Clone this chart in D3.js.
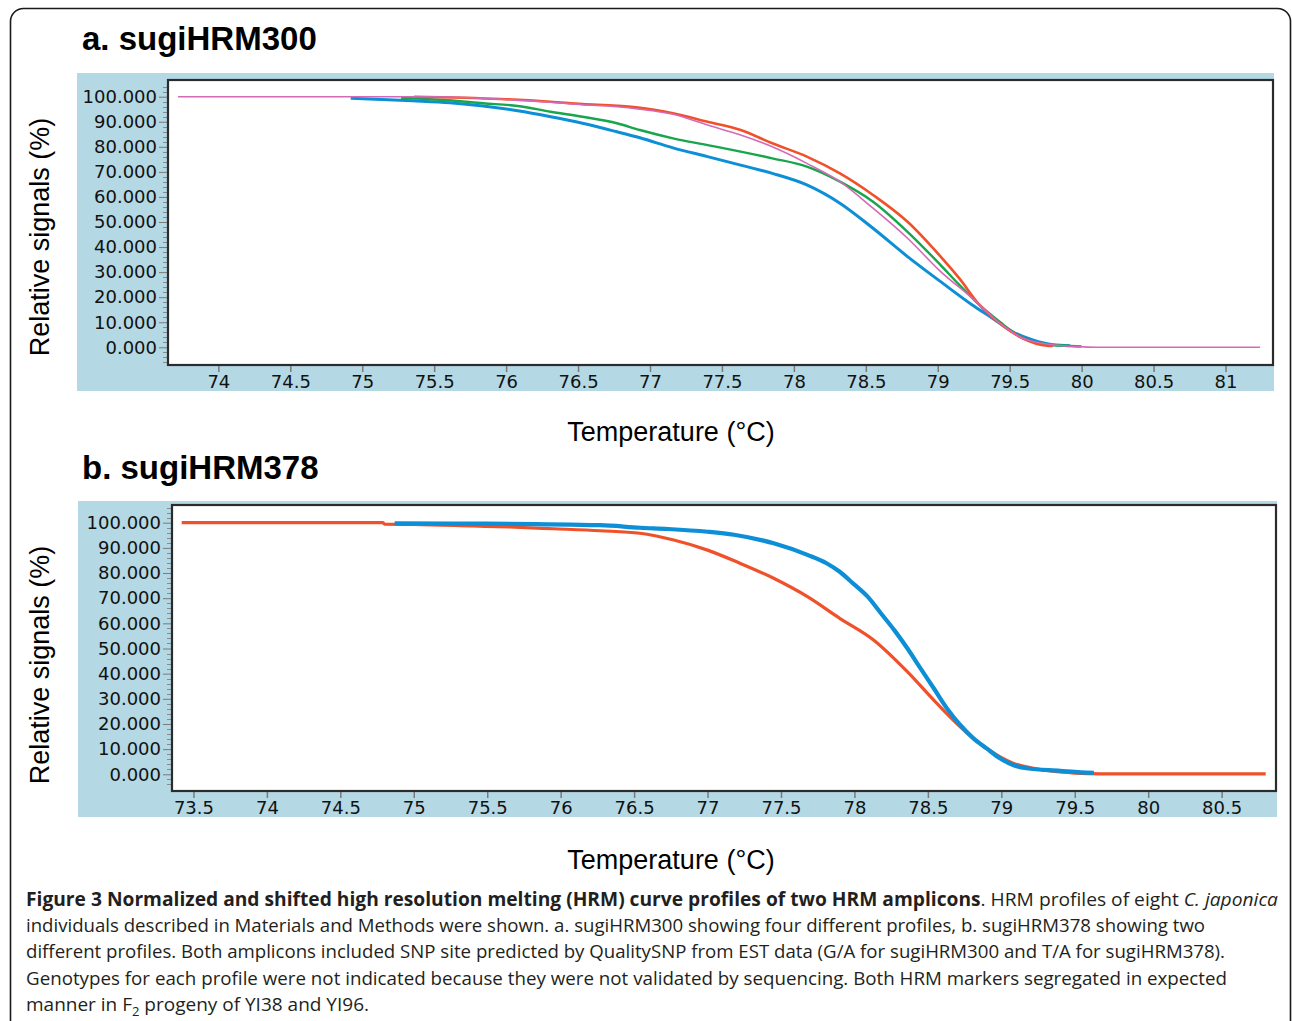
<!doctype html>
<html>
  <head>
    <meta charset="utf-8" />
    <title>HRM curve profiles</title>
    <script src="https://cdn.jsdelivr.net/npm/d3@7"></script>
    <style>
      html,
      body {
        margin: 0;
        padding: 0;
        background: #fff;
        overflow: hidden;
      }
    </style>
  </head>
  <body>
    <script>
      // Tick values for both panels
      const yTicks = [0, 10, 20, 30, 40, 50, 60, 70, 80, 90, 100];
      const xTicksA = [74, 74.5, 75, 75.5, 76, 76.5, 77, 77.5, 78, 78.5, 79, 79.5, 80, 80.5, 81];
      const xTicksB = [73.5, 74, 74.5, 75, 75.5, 76, 76.5, 77, 77.5, 78, 78.5, 79, 79.5, 80, 80.5];

      // a. sugiHRM300 — [temperature, relative signal]
      const aBlue = [
        [74.92, 99.4], [75.35, 98.4], [75.61, 97.6], [75.84, 96.3], [76.08, 94.4],
        [76.31, 92.0], [76.53, 89.4], [76.77, 86.0], [76.93, 83.6], [77.16, 79.6],
        [77.4, 76.1], [77.63, 72.7], [77.85, 69.4], [78.09, 64.8], [78.32, 57.5],
        [78.55, 47.5], [78.79, 36.2], [79.02, 26.2], [79.24, 16.9], [79.38, 11.6],
        [79.52, 6.2], [79.66, 2.9], [79.8, 1.0], [79.92, 0.6],
      ];
      const aGreen = [
        [75.27, 99.5], [75.6, 98.6], [75.84, 97.4], [76.08, 96.3], [76.31, 94.0],
        [76.53, 92.0], [76.77, 89.4], [76.93, 86.7], [77.16, 83.4], [77.4, 80.7],
        [77.63, 78.1], [77.85, 75.4], [78.09, 72.1], [78.32, 66.1], [78.55, 58.1],
        [78.79, 46.1], [79.02, 32.8], [79.15, 24.9], [79.29, 16.9], [79.43, 10.2],
        [79.59, 3.6], [79.75, 1.2], [80.0, 0.3],
      ];
      const aRed = [
        [75.36, 100], [75.96, 99.1], [76.31, 98.0], [76.53, 97.1], [76.77, 96.4],
        [76.93, 95.6], [77.16, 93.4], [77.4, 90.0], [77.63, 86.7], [77.85, 81.4],
        [78.09, 76.1], [78.32, 69.4], [78.55, 60.8], [78.79, 50.1], [79.02, 36.2],
        [79.15, 27.5], [79.29, 16.9], [79.43, 9.6], [79.59, 3.6], [79.76, 0.6],
        [79.8, 0.5],
      ];
      const aPink = [
        [73.72, 100], [75.5, 100], [75.96, 99.0], [76.31, 97.8], [76.53, 96.8],
        [76.77, 96.0], [76.93, 95.0], [77.16, 93.0], [77.4, 88.7], [77.63, 84.7],
        [77.85, 80.0], [78.09, 73.4], [78.32, 66.1], [78.55, 55.5], [78.79, 43.5],
        [79.02, 30.2], [79.24, 19.6], [79.43, 9.6], [79.59, 3.6], [79.8, 1.0],
        [80.0, 0.2], [80.1, 0], [81.24, 0],
      ];

      // b. sugiHRM378
      const bRed = [
        [73.42, 100], [74.79, 100], [74.8, 99.4], [75.0, 99.3], [75.4, 98.7],
        [75.65, 98.3], [75.95, 97.6], [76.27, 96.8], [76.54, 95.8], [76.77, 93.1],
        [77.0, 89.1], [77.22, 83.9], [77.45, 77.9], [77.68, 70.6], [77.9, 62.0],
        [78.13, 53.4], [78.36, 40.8], [78.54, 29.5], [78.72, 18.9], [78.9, 10.3],
        [79.08, 4.4], [79.22, 2.4], [79.35, 1.2], [79.5, 0.5], [79.68, 0.2],
        [80.8, 0.2],
      ];
      const bBlue = [
        [74.87, 99.7], [75.5, 99.6], [76.27, 99.0], [76.54, 98.0], [76.73, 97.5],
        [77.0, 96.4], [77.18, 95.2], [77.45, 91.8], [77.68, 87.2], [77.81, 83.9],
        [77.9, 80.5], [77.99, 75.9], [78.09, 70.6], [78.18, 64.0], [78.27, 57.4],
        [78.36, 50.1], [78.45, 42.1], [78.54, 34.2], [78.63, 26.2], [78.72, 19.6],
        [78.81, 14.3], [78.9, 10.3], [78.99, 6.4], [79.08, 3.7], [79.17, 2.4],
        [79.4, 1.4], [79.54, 0.8], [79.63, 0.6],
      ];

      const captionLines = [
        [
          { t: "Figure 3 Normalized and shifted high resolution melting (HRM) curve profiles of two HRM amplicons", w: "bold" },
          { t: ". HRM profiles of eight " },
          { t: "C. japonica", s: "italic" },
        ],
        [{ t: "individuals described in Materials and Methods were shown. a. sugiHRM300 showing four different profiles, b. sugiHRM378 showing two" }],
        [{ t: "different profiles. Both amplicons included SNP site predicted by QualitySNP from EST data (G/A for sugiHRM300 and T/A for sugiHRM378)." }],
        [{ t: "Genotypes for each profile were not indicated because they were not validated by sequencing. Both HRM markers segregated in expected" }],
        [{ t: "manner in F" }, { t: "2", sub: true }, { t: " progeny of YI38 and YI96." }],
      ];
      const captionWidths = [1252, 1179, 1199, 1201, 343];

      const width = 1292;
      const height = 1021;

      const svg = d3
        .select("body")
        .append("svg")
        .attr("width", width)
        .attr("height", height)
        .style("display", "block");

      // outer rounded frame (runs off the bottom of the picture)
      svg
        .append("rect")
        .attr("x", 10.5)
        .attr("y", 8.5)
        .attr("width", 1280)
        .attr("height", 1060)
        .attr("rx", 13)
        .attr("fill", "none")
        .attr("stroke", "#1a1a1a")
        .attr("stroke-width", 1.6);

      function drawPanel(cfg) {
        const g = svg.append("g");

        g.append("text")
          .attr("x", 82)
          .attr("y", cfg.titleY)
          .attr("font-family", "Liberation Sans, Arial, sans-serif")
          .attr("font-weight", "bold")
          .attr("font-size", 33)
          .attr("fill", "#000")
          .text(cfg.title);

        // light blue backdrop
        g.append("rect")
          .attr("x", cfg.bg[0])
          .attr("y", cfg.bg[1])
          .attr("width", cfg.bg[2] - cfg.bg[0])
          .attr("height", cfg.bg[3] - cfg.bg[1])
          .attr("fill", "#b4d8e4");

        const [left, top, right, bottom] = cfg.plot;
        const x = d3.scaleLinear().domain(cfg.xDomain).range([left, right]);
        const y = d3.scaleLinear().domain([0, 100]).range(cfg.yRange);

        g.append("rect")
          .attr("x", left)
          .attr("y", top)
          .attr("width", right - left)
          .attr("height", bottom - top)
          .attr("fill", "#fff");

        // minor y ticks every 2 units
        const minor = d3.range(-6, 107, 2).filter((v) => v % 10 !== 0 && y(v) > top + 2 && y(v) < bottom - 2);
        g.append("g")
          .selectAll("line")
          .data(minor)
          .join("line")
          .attr("x1", left - 5)
          .attr("x2", left)
          .attr("y1", (d) => Math.round(y(d)) + 0.5)
          .attr("y2", (d) => Math.round(y(d)) + 0.5)
          .attr("stroke", "#8a8a8a")
          .attr("stroke-width", 1);

        // y axis (major ticks + labels)
        const yAxis = g
          .append("g")
          .attr("transform", `translate(${left},0)`)
          .call(d3.axisLeft(y).tickValues(yTicks).tickSize(9).tickPadding(2).tickFormat(d3.format(".3f")));
        yAxis.select(".domain").remove();
        yAxis.selectAll(".tick line").attr("stroke", "#7a7a7a");
        yAxis
          .selectAll(".tick text")
          .attr("font-family", "DejaVu Sans, sans-serif")
          .attr("font-size", 18)
          .attr("fill", "#111");

        // x axis
        const xAxis = g
          .append("g")
          .attr("transform", `translate(0,${bottom})`)
          .call(d3.axisBottom(x).tickValues(cfg.xTicks).tickSize(7).tickPadding(3).tickFormat(d3.format("")));
        xAxis.select(".domain").remove();
        xAxis.selectAll(".tick line").attr("stroke", "#7a7a7a").attr("stroke-width", 1.5);
        xAxis
          .selectAll(".tick text")
          .attr("font-family", "DejaVu Sans, sans-serif")
          .attr("font-size", 18)
          .attr("fill", "#111");

        // curves
        const line = d3
          .line()
          .x((d) => x(d[0]))
          .y((d) => y(d[1]))
          .curve(d3.curveMonotoneX);

        g.append("g")
          .attr("fill", "none")
          .attr("stroke-linejoin", "round")
          .selectAll("path")
          .data(cfg.series)
          .join("path")
          .attr("d", (d) => line(d.values))
          .attr("stroke", (d) => d.color)
          .attr("stroke-width", (d) => d.width);

        // plot border
        g.append("rect")
          .attr("x", left)
          .attr("y", top)
          .attr("width", right - left)
          .attr("height", bottom - top)
          .attr("fill", "none")
          .attr("stroke", "#2b2b2b")
          .attr("stroke-width", 2.2);

        // axis titles
        g.append("text")
          .attr("transform", `translate(40,${cfg.yTitleY}) rotate(-90)`)
          .attr("text-anchor", "middle")
          .attr("dominant-baseline", "central")
          .attr("font-family", "Liberation Sans, Arial, sans-serif")
          .attr("font-size", 27)
          .attr("fill", "#000")
          .text("Relative signals (%)");

        g.append("text")
          .attr("x", 671)
          .attr("y", cfg.xTitleY)
          .attr("text-anchor", "middle")
          .attr("font-family", "Liberation Sans, Arial, sans-serif")
          .attr("font-size", 27)
          .attr("fill", "#000")
          .text("Temperature (°C)");
      }

      drawPanel({
        title: "a. sugiHRM300",
        titleY: 50,
        bg: [77, 73, 1274, 391],
        plot: [168, 80, 1273, 365],
        xDomain: [73.65, 81.33],
        yRange: [347.3, 96.7],
        xTicks: xTicksA,
        yTitleY: 237,
        xTitleY: 441,
        series: [
          { values: aBlue, color: "#0c8fd6", width: 3 },
          { values: aGreen, color: "#17a64c", width: 2.4 },
          { values: aRed, color: "#f0512a", width: 2.6 },
          { values: aPink, color: "#d469b6", width: 1.6 },
        ],
      });

      drawPanel({
        title: "b. sugiHRM378",
        titleY: 479,
        bg: [78, 501, 1277, 817],
        plot: [172, 505, 1276, 791],
        xDomain: [73.354, 80.87],
        yRange: [774.3, 522.7],
        xTicks: xTicksB,
        yTitleY: 665,
        xTitleY: 869,
        series: [
          { values: bRed, color: "#f0512a", width: 3.2 },
          { values: bBlue, color: "#0c8fd6", width: 4.2 },
        ],
      });

      // caption
      const caption = svg
        .append("g")
        .attr("font-family", "Open Sans, sans-serif")
        .attr("font-size", 19)
        .attr("fill", "#231f20");

      captionLines.forEach((parts, i) => {
        const t = caption
          .append("text")
          .attr("x", 26)
          .attr("y", 906 + i * 26.2)
          .attr("textLength", captionWidths[i])
          .attr("lengthAdjust", "spacingAndGlyphs");
        parts.forEach((p) => {
          const ts = t.append("tspan").text(p.t);
          if (p.w) ts.attr("font-weight", p.w);
          if (p.s) ts.attr("font-style", p.s);
          if (p.sub) ts.attr("font-size", 13).attr("baseline-shift", "-5");
        });
      });
    </script>
  </body>
</html>
